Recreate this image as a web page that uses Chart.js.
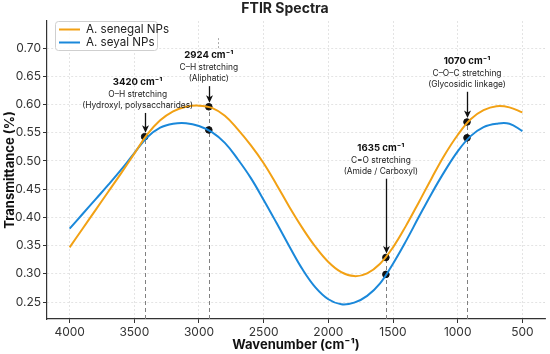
<!DOCTYPE html>
<html>
<head>
<meta charset="utf-8">
<script src="https://cdn.jsdelivr.net/npm/chart.js@4.4.1/dist/chart.umd.min.js"></script>
<style>
  html, body { margin: 0; padding: 0; background: #fff; }
  #wrap { width: 550px; height: 354px; }
</style>
</head>
<body>
<div id="wrap"><canvas id="c" width="550" height="354"></canvas></div>
<script>
// ---- Data ----
const wavenumbers = [4000,3900,3800,3700,3600,3500,3400,3300,3200,3100,3000,2900,2800,2700,2600,2500,2400,2300,2200,2100,2000,1900,1800,1700,1600,1500,1400,1300,1200,1100,1000,900,800,700,600,500];
const senegal = [0.347,0.380,0.413,0.446,0.479,0.513,0.547,0.572,0.588,0.596,0.598,0.594,0.580,0.556,0.528,0.496,0.458,0.418,0.381,0.348,0.321,0.303,0.296,0.301,0.318,0.347,0.385,0.427,0.470,0.511,0.546,0.574,0.590,0.597,0.595,0.586];
const seyal   = [0.380,0.406,0.432,0.458,0.485,0.514,0.542,0.559,0.566,0.567,0.562,0.551,0.532,0.503,0.470,0.431,0.390,0.348,0.308,0.276,0.255,0.246,0.249,0.261,0.283,0.318,0.358,0.401,0.443,0.482,0.517,0.544,0.560,0.566,0.566,0.553];
const seriesNames = ['A. senegal NPs', 'A. seyal NPs'];
const xTicks = [4000,3500,3000,2500,2000,1500,1000,500];
const yTicks = [0.25,0.30,0.35,0.40,0.45,0.50,0.55,0.60,0.65,0.70];

// annotations: plotted wavenumber, marker values, label text
const annotX      = [3420, 2924, 1555, 928];
const annotMarks  = [[0.543], [0.596, 0.555], [0.329, 0.299], [0.569, 0.541]];
const annotLabelY = [0.6400, 0.6875, 0.5235, 0.6775];
const annotTextDx = [-7, 0, -5, 0];
const annotTitle  = ['3420 cm\u207B\u00B9', '2924 cm\u207B\u00B9', '1635 cm\u207B\u00B9', '1070 cm\u207B\u00B9'];
const annotLine1  = ['O\u2013H stretching', 'C\u2013H stretching', 'C=O stretching', 'C\u2013O\u2013C stretching'];
const annotLine2  = ['(Hydroxyl, polysaccharides)', '(Aliphatic)', '(Amide / Carboxyl)', '(Glycosidic linkage)'];
const strayX = 2856, strayY = [0.700, 0.720];

const FONT = 'Inter, "DejaVu Sans", sans-serif';
const colors = ['#F2A114', '#1A88DA'];

const markerPts = [];
annotX.forEach((x, i) => annotMarks[i].forEach(v => markerPts.push({x: x, y: v})));

const annotPlugin = {
  id: 'annot',
  beforeDatasetsDraw(chart) {
    const {ctx, scales: {x, y}, chartArea} = chart;
    ctx.save();
    ctx.strokeStyle = '#808080';
    ctx.lineWidth = 1;
    ctx.setLineDash([4, 3]);
    annotX.forEach((wx, i) => {
      const px = Math.round(x.getPixelForValue(wx)) + 0.5;
      const top = y.getPixelForValue(Math.max(...annotMarks[i]));
      ctx.beginPath();
      ctx.moveTo(px, chartArea.bottom);
      ctx.lineTo(px, top);
      ctx.stroke();
    });
    ctx.strokeStyle = '#aaaaaa';
    ctx.setLineDash([2, 2]);
    const sx = Math.round(x.getPixelForValue(strayX)) + 0.5;
    ctx.beginPath();
    ctx.moveTo(sx, y.getPixelForValue(strayY[0]));
    ctx.lineTo(sx, y.getPixelForValue(strayY[1]));
    ctx.stroke();
    ctx.restore();
  },
  afterDatasetsDraw(chart) {
    const {ctx, scales: {x, y}} = chart;
    ctx.save();
    ctx.textAlign = 'center';
    ctx.textBaseline = 'middle';
    annotX.forEach((wx, i) => {
      const px = x.getPixelForValue(wx);
      const tx = px + annotTextDx[i];
      const ly = y.getPixelForValue(annotLabelY[i]);
      ctx.fillStyle = '#111';
      ctx.font = 'bold 9.6px ' + FONT;
      ctx.fillText(annotTitle[i], tx, ly);
      ctx.fillStyle = '#222';
      ctx.font = '8.4px ' + FONT;
      ctx.fillText(annotLine1[i], tx, ly + 12.5);
      ctx.fillText(annotLine2[i], tx, ly + 23.5);
      // arrow
      const tail = ly + 31;
      const tip = y.getPixelForValue(Math.max(...annotMarks[i])) - 4;
      const ax = Math.round(px) + 0.5;
      ctx.strokeStyle = '#111';
      ctx.fillStyle = '#111';
      ctx.lineWidth = 1.3;
      ctx.beginPath();
      ctx.moveTo(ax, tail);
      ctx.lineTo(ax, tip - 5);
      ctx.stroke();
      ctx.beginPath();
      ctx.moveTo(ax, tip);
      ctx.lineTo(ax - 3.5, tip - 7.5);
      ctx.lineTo(ax, tip - 5.5);
      ctx.lineTo(ax + 3.5, tip - 7.5);
      ctx.closePath();
      ctx.fill();
    });
    ctx.restore();
  },
  afterDraw(chart) {
    const {ctx, chartArea} = chart;
    ctx.save();
    // title
    ctx.fillStyle = '#222';
    ctx.font = 'bold 14px ' + FONT;
    ctx.textAlign = 'center';
    ctx.textBaseline = 'middle';
    ctx.fillText('FTIR Spectra', 285, 9);
    // legend
    const lx = chartArea.left + 8, ly = chartArea.top;
    const w = 102, h = 29;
    ctx.fillStyle = 'rgba(255,255,255,0.9)';
    ctx.strokeStyle = '#cfcfcf';
    ctx.lineWidth = 1;
    ctx.beginPath();
    ctx.roundRect(lx + 0.5, ly + 0.5, w, h, 3);
    ctx.fill();
    ctx.stroke();
    ctx.textAlign = 'left';
    ctx.font = '11.6px ' + FONT;
    seriesNames.forEach((n, i) => {
      const yy = ly + 8.5 + i * 13;
      ctx.strokeStyle = colors[i];
      ctx.lineWidth = 2;
      ctx.beginPath();
      ctx.moveTo(lx + 4, yy);
      ctx.lineTo(lx + 25, yy);
      ctx.stroke();
      ctx.fillStyle = '#222';
      ctx.fillText(n, lx + 31, yy);
    });
    ctx.restore();
  }
};

new Chart(document.getElementById('c'), {
  type: 'line',
  data: {
    datasets: [
      { label: seriesNames[0], data: wavenumbers.map((w, i) => ({x: w, y: senegal[i]})), borderColor: colors[0], borderWidth: 2, pointRadius: 0, tension: 0.4, fill: false },
      { label: seriesNames[1], data: wavenumbers.map((w, i) => ({x: w, y: seyal[i]})), borderColor: colors[1], borderWidth: 2, pointRadius: 0, tension: 0.4, fill: false },
      { type: 'scatter', label: 'marks', data: markerPts, backgroundColor: '#111', borderColor: '#111', pointRadius: 3.3, showLine: false }
    ]
  },
  options: {
    responsive: false,
    animation: false,
    devicePixelRatio: 1,
    layout: { padding: { top: 21, right: 3, left: 0, bottom: 0 } },
    plugins: { legend: { display: false }, title: { display: false }, tooltip: { enabled: false } },
    scales: {
      x: {
        type: 'linear', reverse: true, min: 325, max: 4175,
        afterBuildTicks: s => { s.ticks = xTicks.map(v => ({value: v})); },
        afterFit: s => { s.height = 35; s.paddingLeft = 0; s.paddingRight = 0; },
        ticks: { color: '#333', font: { family: FONT, size: 12 }, padding: 2, maxRotation: 0, autoSkip: false, callback: v => String(v) },
        grid: { color: '#dddddd', lineWidth: 0.8, tickColor: '#333', tickLength: 4, tickWidth: 1 },
        border: { color: '#333', width: 1.2, dash: [2, 2] },
        title: { display: true, text: 'Wavenumber (cm\u207B\u00B9)', color: '#111', font: { family: FONT, size: 13, weight: 'bold' }, padding: { top: 0, bottom: 1 } }
      },
      y: {
        type: 'linear', min: 0.22, max: 0.748,
        afterBuildTicks: s => { s.ticks = yTicks.map(v => ({value: v})); },
        afterFit: s => { s.width = 47; s.paddingTop = 0; s.paddingBottom = 0; },
        ticks: { color: '#333', font: { family: FONT, size: 12 }, padding: 2, callback: v => v.toFixed(2) },
        grid: { color: '#dddddd', lineWidth: 0.8, tickColor: '#333', tickLength: 4, tickWidth: 1 },
        border: { color: '#333', width: 1.2, dash: [2, 2] },
        title: { display: true, text: 'Transmittance (%)', color: '#111', font: { family: FONT, size: 13, weight: 'bold' }, padding: { top: 2, bottom: 0 } }
      }
    }
  },
  plugins: [annotPlugin]
});
</script>
</body>
</html>
